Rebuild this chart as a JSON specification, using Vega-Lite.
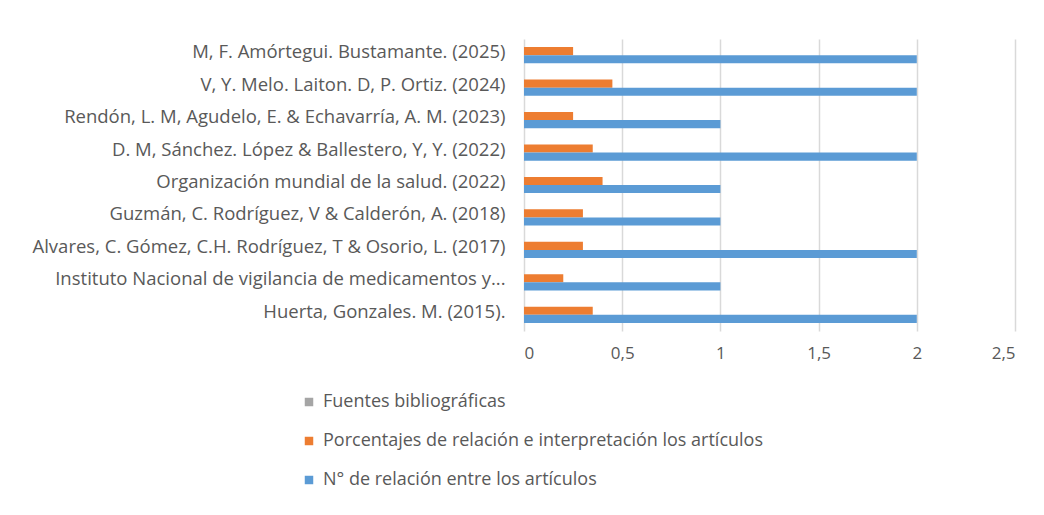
{
  "$schema": "https://vega.github.io/schema/vega-lite/v6.json",
  "autosize": "none",
  "width": 491,
  "height": 292,
  "padding": {"left": 524, "top": 39, "right": 29, "bottom": 184},
  "background": "white",
  "config": {
    "view": {"stroke": null},
    "font": "Open Sans",
    "axis": {"labelColor": "#595959", "labelFont": "Open Sans"},
    "legend": {"labelColor": "#595959", "labelFont": "Open Sans"}
  },
  "data": {
    "values": [
      {"autor": "M, F. Amórtegui. Bustamante. (2025)", "serie": "Porcentajes de relación e interpretación los artículos", "valor": 0.25},
      {"autor": "M, F. Amórtegui. Bustamante. (2025)", "serie": "N° de relación entre los artículos", "valor": 2},
      {"autor": "V, Y. Melo. Laiton. D, P. Ortiz. (2024)", "serie": "Porcentajes de relación e interpretación los artículos", "valor": 0.45},
      {"autor": "V, Y. Melo. Laiton. D, P. Ortiz. (2024)", "serie": "N° de relación entre los artículos", "valor": 2},
      {"autor": "Rendón, L. M, Agudelo, E. & Echavarría, A. M. (2023)", "serie": "Porcentajes de relación e interpretación los artículos", "valor": 0.25},
      {"autor": "Rendón, L. M, Agudelo, E. & Echavarría, A. M. (2023)", "serie": "N° de relación entre los artículos", "valor": 1},
      {"autor": "D. M, Sánchez. López & Ballestero, Y, Y. (2022)", "serie": "Porcentajes de relación e interpretación los artículos", "valor": 0.35},
      {"autor": "D. M, Sánchez. López & Ballestero, Y, Y. (2022)", "serie": "N° de relación entre los artículos", "valor": 2},
      {"autor": "Organización mundial de la salud. (2022)", "serie": "Porcentajes de relación e interpretación los artículos", "valor": 0.4},
      {"autor": "Organización mundial de la salud. (2022)", "serie": "N° de relación entre los artículos", "valor": 1},
      {"autor": "Guzmán, C. Rodríguez, V & Calderón, A. (2018)", "serie": "Porcentajes de relación e interpretación los artículos", "valor": 0.3},
      {"autor": "Guzmán, C. Rodríguez, V & Calderón, A. (2018)", "serie": "N° de relación entre los artículos", "valor": 1},
      {"autor": "Alvares, C. Gómez, C.H. Rodríguez, T & Osorio, L. (2017)", "serie": "Porcentajes de relación e interpretación los artículos", "valor": 0.3},
      {"autor": "Alvares, C. Gómez, C.H. Rodríguez, T & Osorio, L. (2017)", "serie": "N° de relación entre los artículos", "valor": 2},
      {"autor": "Instituto Nacional de vigilancia de medicamentos y...", "serie": "Porcentajes de relación e interpretación los artículos", "valor": 0.2},
      {"autor": "Instituto Nacional de vigilancia de medicamentos y...", "serie": "N° de relación entre los artículos", "valor": 1},
      {"autor": "Huerta, Gonzales. M. (2015).", "serie": "Porcentajes de relación e interpretación los artículos", "valor": 0.35},
      {"autor": "Huerta, Gonzales. M. (2015).", "serie": "N° de relación entre los artículos", "valor": 2}
    ]
  },
  "mark": {"type": "bar"},
  "encoding": {
    "y": {
      "field": "autor", "type": "nominal", "sort": null,
      "scale": {"paddingInner": 0.5, "paddingOuter": 0.25},
      "axis": {"title": null, "domain": false, "ticks": false, "labelFontSize": 18.5, "labelPadding": 19, "labelLimit": 700, "labelOffset": -3}
    },
    "yOffset": {
      "field": "serie", "type": "nominal",
      "scale": {"domain": ["Porcentajes de relación e interpretación los artículos", "N° de relación entre los artículos"], "paddingInner": 0, "paddingOuter": 0}
    },
    "x": {
      "field": "valor", "type": "quantitative",
      "scale": {"domain": [0, 2.5], "nice": false},
      "axis": {"title": null, "values": [0, 0.5, 1, 1.5, 2, 2.5], "labelExpr": "replace(toString(datum.value), '.', ',')", "domain": false, "ticks": false, "grid": true, "gridColor": "#D9D9D9", "gridWidth": 1.5, "labelFontSize": 17, "labelPadding": 14}
    },
    "color": {
      "field": "serie", "type": "nominal",
      "scale": {
        "domain": ["Fuentes bibliográficas", "Porcentajes de relación e interpretación los artículos", "N° de relación entre los artículos"],
        "range": ["#A5A5A5", "#ED7D31", "#5B9BD5"]
      },
      "legend": {
        "title": null, "orient": "none", "legendX": -224, "legendY": 354,
        "symbolType": "square", "symbolSize": 72, "symbolStrokeWidth": 0,
        "labelFontSize": 18, "rowPadding": 21, "labelOffset": 5, "labelLimit": 700
      }
    }
  }
}
